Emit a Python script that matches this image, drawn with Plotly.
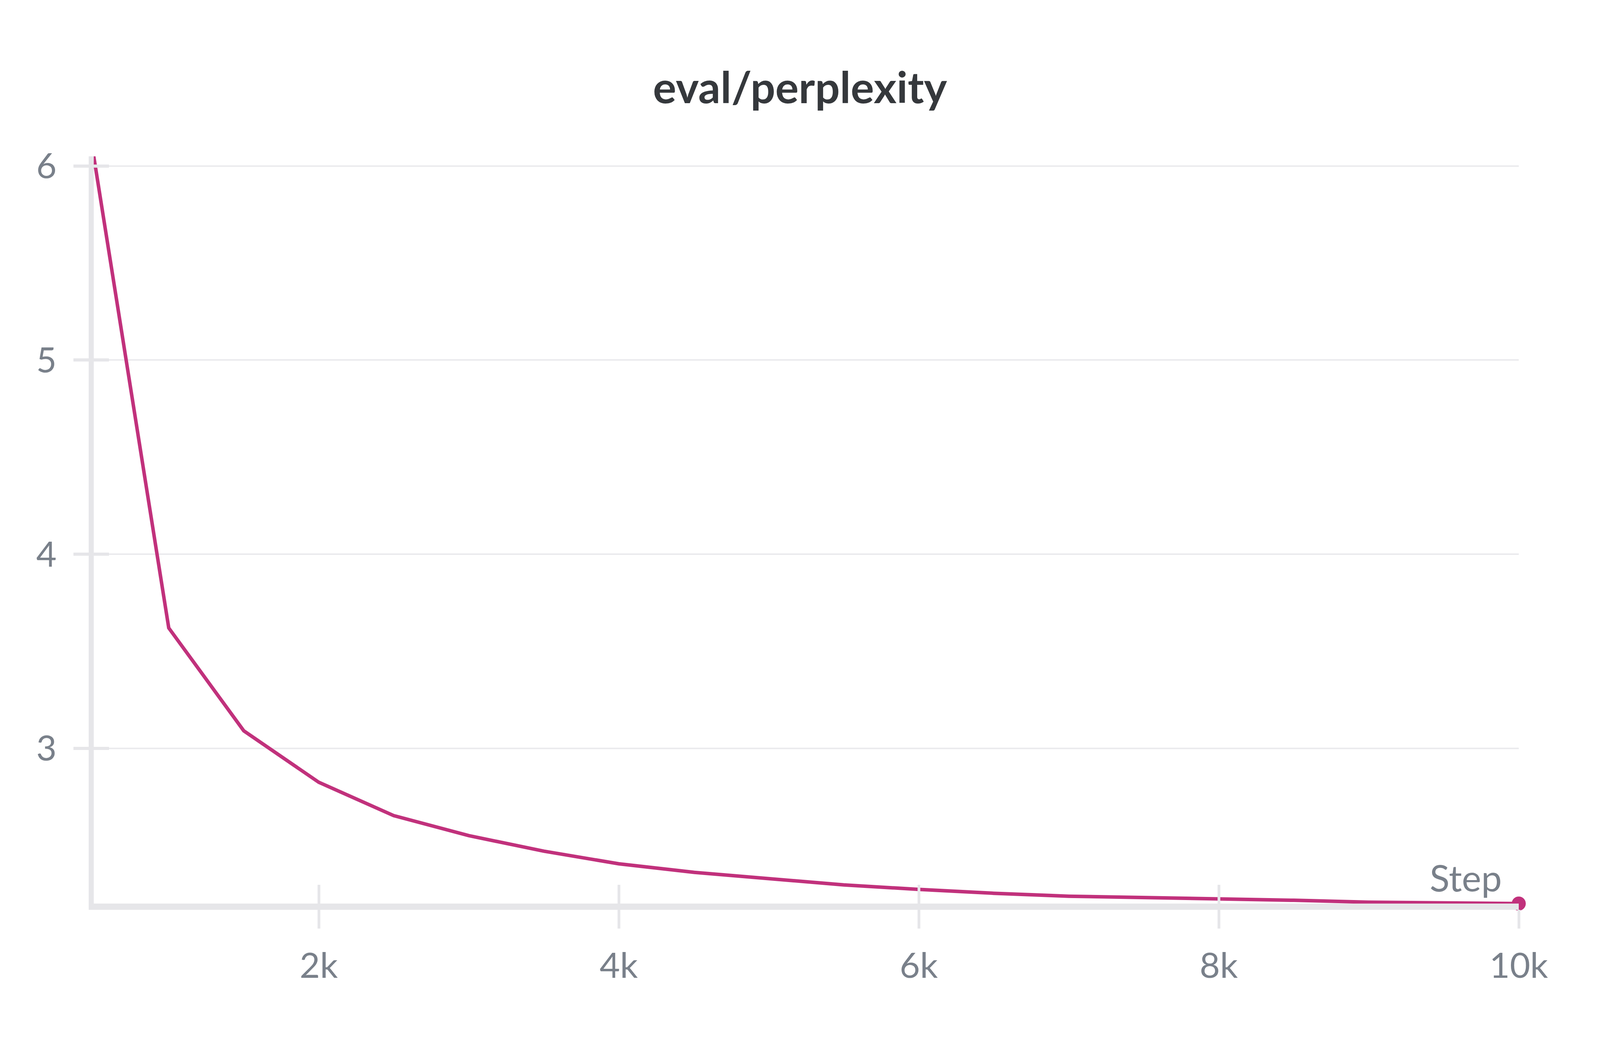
import plotly.graph_objects as go

# eval/perplexity logged every 500 steps
steps = [500, 1000, 1500, 2000, 2500, 3000, 3500, 4000, 4500, 5000,
         5500, 6000, 6500, 7000, 7500, 8000, 8500, 9000, 9500, 10000]
perplexity = [6.05, 3.62, 3.09, 2.825, 2.653, 2.55, 2.47, 2.405, 2.361, 2.328,
              2.296, 2.273, 2.253, 2.238, 2.232, 2.226, 2.217, 2.207, 2.203, 2.2]

x_ticks = [2000, 4000, 6000, 8000, 10000]
x_labels = ["2k", "4k", "6k", "8k", "10k"]
y_ticks = [3, 4, 5, 6]

LINE = "#C1317C"
AXIS = "#E6E6E9"
GRID = "#EBEBEE"
TICKTXT = "#79808A"
FONT = "Lato"

x_range = [min(steps), max(steps)]
y_range = [min(perplexity), max(perplexity)]

fig = go.Figure()
fig.add_trace(go.Scatter(
    x=steps, y=perplexity, mode="lines",
    line=dict(color=LINE, width=9),
    hoverinfo="skip", showlegend=False,
))
# dot on the last logged value
fig.add_trace(go.Scatter(
    x=steps[-1:], y=perplexity[-1:], mode="markers",
    marker=dict(color=LINE, size=36),
    hoverinfo="skip", showlegend=False, cliponaxis=False,
))
# empty trace so the overlay axes (inner half of the ticks) get drawn
fig.add_trace(go.Scatter(
    x=steps, y=perplexity, mode="none",
    xaxis="x2", yaxis="y2", hoverinfo="skip", showlegend=False,
))

tickfont = dict(family=FONT, size=90, color=TICKTXT)

fig.update_layout(
    autosize=True,
    margin=dict(l=232, r=200, t=392, b=336),
    paper_bgcolor="white", plot_bgcolor="white",
    title=dict(
        text="eval/perplexity", x=0.5, xanchor="center",
        y=0.918, yanchor="middle",
        font=dict(family=FONT, size=112, color="#35383C", weight=700),
    ),
    xaxis=dict(
        range=x_range, tickvals=x_ticks, ticktext=x_labels,
        showgrid=False, zeroline=False,
        showline=True, linecolor=AXIS, linewidth=16,
        ticks="outside", ticklen=48, tickwidth=7, tickcolor=AXIS,
        ticklabelstandoff=18, tickfont=tickfont,
    ),
    yaxis=dict(
        range=y_range, tickvals=y_ticks,
        showgrid=True, gridcolor=GRID, gridwidth=4, zeroline=False,
        showline=True, linecolor=AXIS, linewidth=13,
        ticks="outside", ticklen=39, tickwidth=8, tickcolor=AXIS,
        ticklabelstandoff=25, tickfont=tickfont,
    ),
    xaxis2=dict(
        overlaying="x", range=x_range, tickvals=x_ticks,
        showgrid=False, zeroline=False, showline=False,
        ticks="inside", ticklen=48, tickwidth=7, tickcolor=AXIS,
        showticklabels=False,
    ),
    yaxis2=dict(
        overlaying="y", range=y_range, tickvals=y_ticks,
        showgrid=False, zeroline=False, showline=False,
        ticks="inside", ticklen=39, tickwidth=8, tickcolor=AXIS,
        showticklabels=False,
    ),
    annotations=[dict(
        text="Step", xref="x domain", yref="y domain",
        x=1, y=0, xanchor="right", yanchor="bottom",
        xshift=-41, yshift=9, showarrow=False,
        font=dict(family=FONT, size=94, color=TICKTXT),
    )],
)

fig.write_html("out.html", config={"displayModeBar": False, "responsive": True},
               default_width="100%", default_height="100%")
